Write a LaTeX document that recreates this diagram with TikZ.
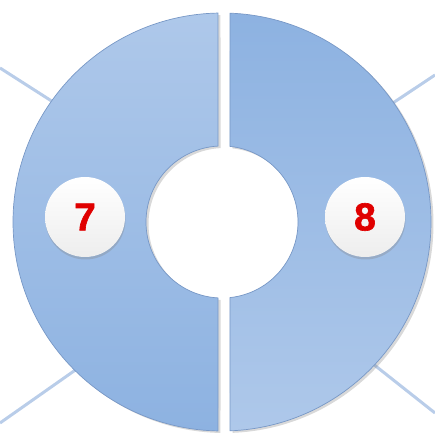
\documentclass[tikz,border=0pt]{standalone}
\usepackage{fontspec}
\setmainfont{Liberation Sans}
\newfontfamily\numfont[BoldFeatures={FakeBold=1.6}]{Liberation Sans}
\usetikzlibrary{shadows}
\definecolor{spoke}{HTML}{B9CDE9}
\definecolor{ringedge}{HTML}{7898C6}
\definecolor{lighttop}{HTML}{AEC8EA}
\definecolor{darkbot}{HTML}{8DB2E1}
\definecolor{numred}{HTML}{E00000}
\tikzset{
  spokeline/.style={draw=spoke, line width=3pt},
  halfring/.style={draw=ringedge, line width=0.7pt,
    drop shadow={opacity=0.3, shadow xshift=2.5pt, shadow yshift=-2pt}},
  numcircle/.style={circle, minimum size=80pt, inner sep=0pt,
    top color=white, bottom color=black!7,
    drop shadow={opacity=0.3, shadow xshift=0.5pt, shadow yshift=-2.5pt},
    font=\numfont\fontsize{39}{39}\selectfont\bfseries, text=numred}
}
\begin{document}
\begin{tikzpicture}[x=1pt,y=1pt]
\useasboundingbox (0,0) rectangle (435,436);
\coordinate (C) at (222,214);
% spokes
\coordinate (tl) at (0,368);
\coordinate (bl) at (0,13);
\coordinate (tr) at (435,361);
\coordinate (br) at (435,23);
\coordinate (tlr) at ([shift={(144.5:200)}]C);
\coordinate (blr) at ([shift={(225.7:200)}]C);
\coordinate (trr) at ([shift={(34.9:200)}]C);
\coordinate (brr) at ([shift={(-43.4:200)}]C);
\draw[spokeline] (tl) -- (tlr);
\draw[spokeline] (bl) -- (blr);
\draw[spokeline] (tr) -- (trr);
\draw[spokeline] (br) -- (brr);
% left half
\path[halfring, top color=lighttop, bottom color=darkbot]
  ([shift={(91.1:209)}]C) arc[start angle=91.1, end angle=268.9, radius=209]
  -- ([shift={(267:76)}]C) arc[start angle=267, end angle=93, radius=76] -- cycle;
% right half
\path[halfring, top color=darkbot, bottom color=lighttop]
  ([shift={(87.8:209)}]C) arc[start angle=87.8, end angle=-87.8, radius=209]
  -- ([shift={(-84:76)}]C) arc[start angle=-84, end angle=84, radius=76] -- cycle;
% number circles
\node[numcircle] (n7) at (85,219) {7};
\node[numcircle] (n8) at (365,219) {8};
\end{tikzpicture}
\end{document}
